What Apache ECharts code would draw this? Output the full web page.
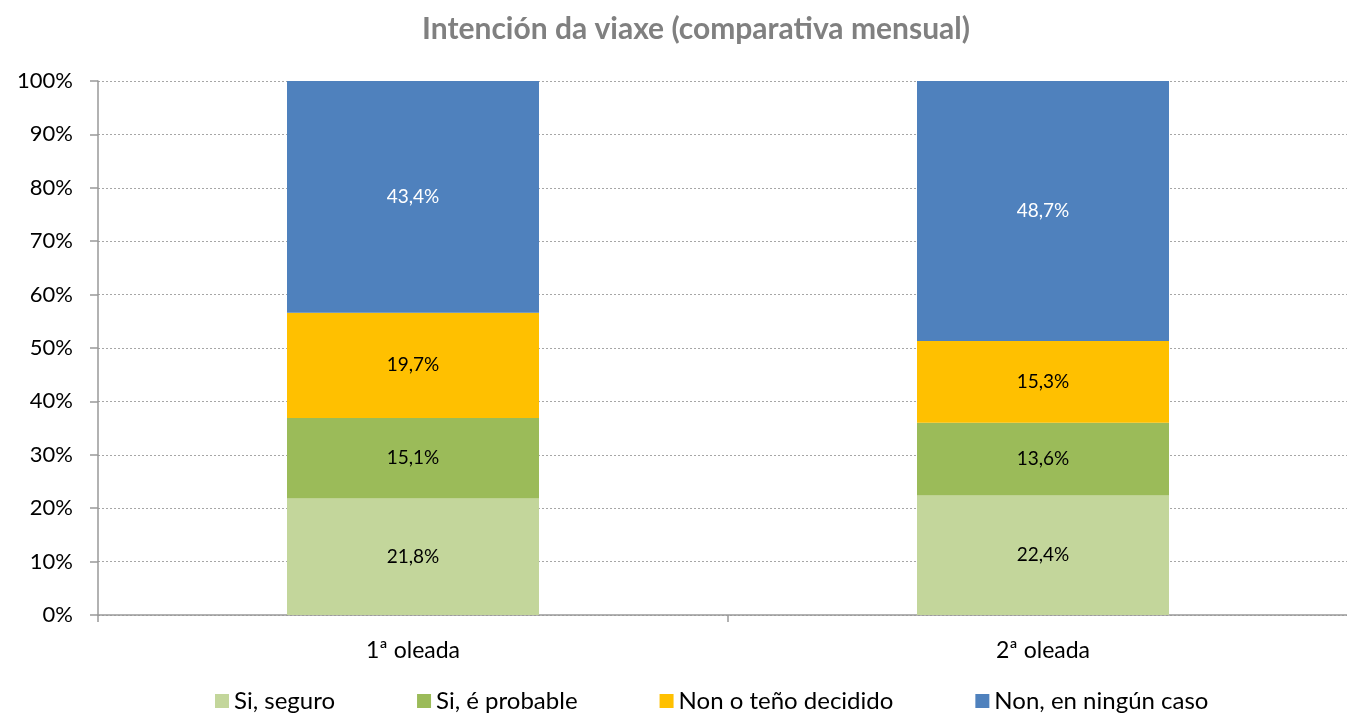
<!DOCTYPE html>
<html>
<head>
<meta charset="utf-8">
<script src="https://cdn.jsdelivr.net/npm/echarts@6/dist/echarts.min.js"></script>
<style>
  html, body { margin: 0; padding: 0; background: #fff; }
  #main { width: 1347px; height: 723px; }
</style>
</head>
<body>
<div id="main"></div>
<script>
var categories = ['1ª oleada', '2ª oleada']
var seriesNames = ['Si, seguro', 'Si, é probable', 'Non o teño decidido', 'Non, en ningún caso']
var siSeguro = [21.8, 22.4]
var siProbable = [15.1, 13.6]
var nonDecidido = [19.7, 15.3]
var nonNingun = [43.4, 48.7]
var colors = ['#C3D69B', '#9BBB59', '#FFC000', '#4F81BD']
var labelColors = ['#000', '#000', '#000', '#fff']
var font = 'Lato, "Open Sans", sans-serif'

var chart = echarts.init(document.getElementById('main'))

function makeSeries(name, data, i) {
  return {
    name: name,
    type: 'bar',
    stack: 'total',
    barWidth: '40%',
    data: data,
    itemStyle: { color: colors[i] },
    label: {
      show: true,
      position: 'inside',
      color: labelColors[i],
      fontFamily: font,
      fontSize: 19,
      formatter: function (p) {
        return p.value.toFixed(1).replace('.', ',') + '%'
      }
    }
  }
}

var option = {
  animation: false,
  title: {
    text: 'Intención da viaxe (comparativa mensual)',
    left: 691,
    top: 9,
    textAlign: 'center',
    textStyle: {
      color: '#808080',
      fontFamily: font,
      fontWeight: 'bold',
      fontSize: 30
    }
  },
  legend: {
    bottom: 5,
    left: 210,
    itemWidth: 14,
    itemHeight: 14,
    itemGap: 82,
    icon: 'rect',
    data: seriesNames,
    textStyle: { color: '#000', fontFamily: font, fontSize: 24 }
  },
  grid: {
    left: 98,
    top: 81,
    bottom: 108,
    right: -11,
    outerBoundsMode: 'none'
  },
  xAxis: {
    type: 'category',
    data: categories,
    axisLine: { lineStyle: { color: '#999', width: 1.5 } },
    axisTick: { show: true, length: 7, lineStyle: { color: '#999', width: 1.5 } },
    axisLabel: { color: '#000', fontFamily: font, fontSize: 23, margin: 24 }
  },
  yAxis: {
    type: 'value',
    min: 0,
    max: 100,
    interval: 10,
    axisLine: { show: true, lineStyle: { color: '#999', width: 1.5 } },
    axisTick: { show: true, length: 8, lineStyle: { color: '#999', width: 1.5 } },
    axisLabel: {
      color: '#000',
      fontFamily: font,
      fontSize: 22,
      margin: 25,
      formatter: '{value}%'
    },
    splitLine: { lineStyle: { color: '#A6A6A6', type: [2, 2], width: 1 } }
  },
  series: [
    makeSeries(seriesNames[0], siSeguro, 0),
    makeSeries(seriesNames[1], siProbable, 1),
    makeSeries(seriesNames[2], nonDecidido, 2),
    makeSeries(seriesNames[3], nonNingun, 3)
  ]
}
chart.setOption(option)
</script>
</body>
</html>
